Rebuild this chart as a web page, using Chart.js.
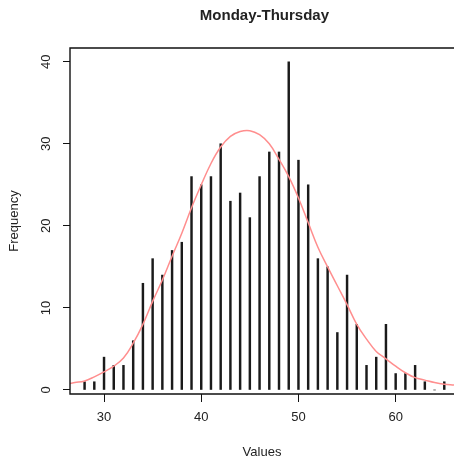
<!DOCTYPE html>
<html>
<head>
<meta charset="utf-8">
<script src="https://cdn.jsdelivr.net/npm/chart.js@4.4.1/dist/chart.umd.min.js"></script>
<style>
    html, body { margin: 0; padding: 0; background: #fff; }
</style>
</head>
<body>
<canvas id="myChart" width="454" height="461"></canvas>
<script>
const TITLE = 'Monday-Thursday';
const X_TITLE = 'Values';
const Y_TITLE = 'Frequency';

// frequency of each value (type="h" spikes)
const values = [28, 29, 30, 31, 32, 33, 34, 35, 36, 37, 38, 39, 40, 41, 42, 43, 44, 45, 46,
                47, 48, 49, 50, 51, 52, 53, 54, 55, 56, 57, 58, 59, 60, 61, 62, 63, 64, 65];
const counts = [1, 1, 4, 3, 3, 6, 13, 16, 14, 17, 18, 26, 25, 26, 30, 23, 24, 21, 26,
                29, 29, 40, 28, 25, 16, 15, 7, 14, 8, 3, 4, 8, 2, 2, 3, 1, 0, 1];

// fitted curve
const curveX = [26, 27, 28, 29, 30, 31, 32, 33, 34, 35, 36, 37, 38, 39, 40, 41, 42, 43, 44, 45, 46,
                47, 48, 49, 50, 51, 52, 53, 54, 55, 56, 57, 58, 59, 60, 61, 62, 63, 64, 65, 66];
const curveY = [0.7, 0.9, 1.1, 1.6, 2.2, 2.9, 3.9, 5.7, 8.0, 10.8, 13.4, 16.3, 19.1, 22.2, 25.0, 27.6, 29.6, 30.9, 31.5, 31.6, 31.1,
                30.0, 28.1, 26.0, 23.4, 20.4, 17.4, 15.0, 12.7, 10.4, 8.0, 6.2, 4.7, 3.8, 2.9, 2.1, 1.5, 1.2, 0.9, 0.7, 0.6];

const xTicks = [30, 40, 50, 60];
const yTicks = [0, 10, 20, 30, 40];

const FONT = 'Liberation Sans, Arial, Helvetica, sans-serif';
const TEXT_COLOR = '#222';

Chart.defaults.font.family = FONT;
Chart.defaults.font.size = 13;
Chart.defaults.color = TEXT_COLOR;

// box, rotated y labels and main title (R style)
const rFrame = {
    id: 'rFrame',
    afterDraw(chart) {
        const { ctx, chartArea } = chart;
        const yScale = chart.scales.y;
        const xScale = chart.scales.x;
        ctx.save();
        ctx.strokeStyle = '#111';
        ctx.lineWidth = 1.4;
        ctx.beginPath();
        ctx.moveTo(chartArea.right + 6, chartArea.top);
        ctx.lineTo(chartArea.left, chartArea.top);
        ctx.lineTo(chartArea.left, chartArea.bottom);
        ctx.lineTo(chartArea.right + 6, chartArea.bottom);
        ctx.stroke();

        ctx.fillStyle = TEXT_COLOR;
        ctx.font = '13px ' + FONT;
        ctx.textAlign = 'center';
        ctx.textBaseline = 'middle';
        yTicks.forEach(v => {
            ctx.save();
            ctx.translate(46.5, yScale.getPixelForValue(v));
            ctx.rotate(-Math.PI / 2);
            ctx.fillText(String(v), 0, 0);
            ctx.restore();
        });

        ctx.font = 'bold 15px ' + FONT;
        ctx.fillText(TITLE, xScale.getPixelForValue(46.5), 16);
        ctx.restore();
    }
};

const ctx = document.getElementById('myChart');
new Chart(ctx, {
    type: 'bar',
    data: {
        datasets: [{
            type: 'line',
            data: curveX.map((x, i) => ({ x: x, y: curveY[i] })),
            borderColor: '#ff8e8e',
            borderWidth: 1.5,
            pointRadius: 0,
            tension: 0.4,
            order: 0
        }, {
            type: 'bar',
            data: values.map((x, i) => ({ x: x, y: counts[i] })),
            backgroundColor: '#1a1a1a',
            barThickness: 1.8,
            order: 1
        }]
    },
    options: {
        responsive: false,
        animation: false,
        layout: {
            padding: { top: 48, left: 0, right: 0, bottom: 0 }
        },
        plugins: {
            legend: { display: false },
            tooltip: { enabled: false }
        },
        scales: {
            x: {
                type: 'linear',
                offset: false,
                min: 26.5,
                max: 66.0,
                afterBuildTicks: s => { s.ticks = xTicks.map(v => ({ value: v })); },
                afterFit: s => { s.height = 67; },
                ticks: { padding: 8, color: TEXT_COLOR },
                grid: { offset: false, drawOnChartArea: false, drawTicks: true, tickLength: 8, color: '#111', lineWidth: 1 },
                border: { display: false },
                title: { display: true, text: X_TITLE, color: TEXT_COLOR, padding: { top: 0, bottom: 1 } }
            },
            y: {
                min: -0.49,
                max: 41.67,
                afterBuildTicks: s => { s.ticks = yTicks.map(v => ({ value: v })); },
                afterFit: s => { s.width = 70; },
                ticks: { display: false },
                grid: { drawOnChartArea: false, drawTicks: true, tickLength: 7, color: '#111', lineWidth: 1 },
                border: { display: false },
                title: { display: true, text: Y_TITLE, color: TEXT_COLOR, padding: { top: 7, bottom: 0 } }
            }
        }
    },
    plugins: [rFrame]
});
</script>
</body>
</html>
